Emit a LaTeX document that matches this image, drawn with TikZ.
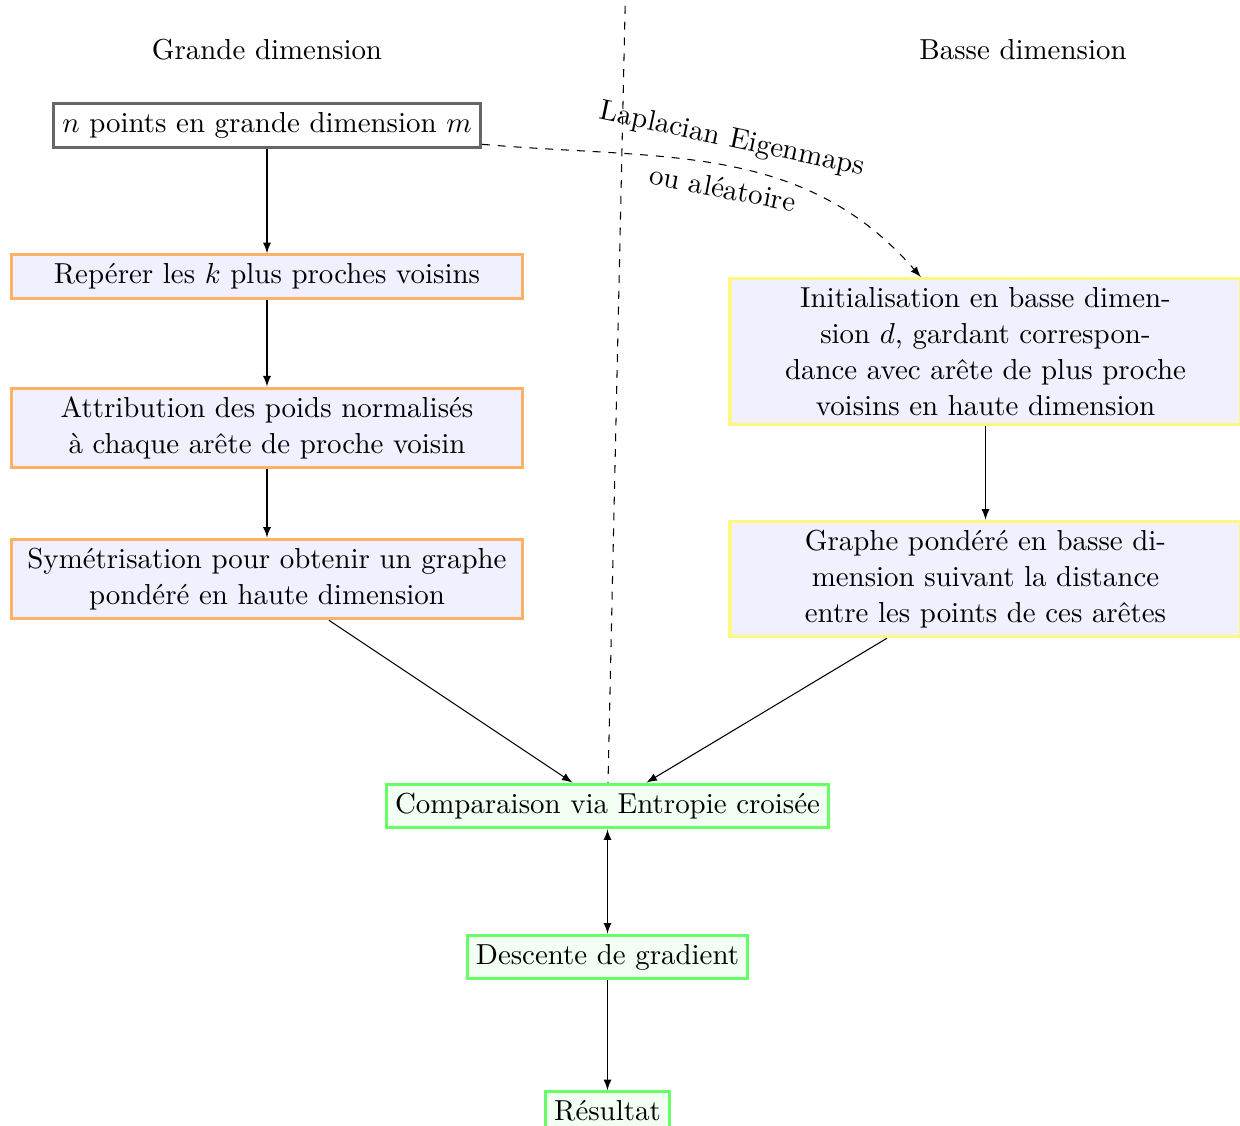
\documentclass[tikz,border=0pt]{standalone}
\usetikzlibrary{arrows}
\begin{document}
\begin{tikzpicture}[x=0.3788pt,y=0.3788pt,
  font=\fontsize{10.95}{13.6}\selectfont,
  >=latex,
  base/.style={draw,line width=1.2pt,align=center,inner sep=3.33pt},
  startbox/.style={base,draw=black!60,fill=white},
  hibox/.style={base,draw=orange!60,fill=blue!6,minimum width=193.6pt},
  lobox/.style={base,draw=yellow!50,fill=blue!6,minimum width=193.6pt},
  resbox/.style={base,draw=green!60,fill=green!5},
  arr/.style={->,line width=0.4pt},
  lbl/.style={inner sep=0pt}
]
\useasboundingbox (0,0) rectangle (1240,-1126);
\node[lbl] (hg) at (267,-50) {Grande dimension};
\node[lbl] (hb) at (1023,-50) {Basse dimension};
\node[startbox] (pts) at (267,-125.5) {$n$ points en grande dimension $m$};
\node[hibox] (knn) at (267,-276.5) {Repérer les $k$ plus proches voisins};
\node[hibox] (att) at (267,-428) {Attribution des poids normalisés\\à chaque arête de proche voisin};
\node[hibox] (sym) at (267,-579) {Symétrisation pour obtenir un graphe\\pondéré en haute dimension};
\node[lobox] (ini) at (985.5,-351.5) {Initialisation en basse dimen-\\sion $d$, gardant correspon-\\dance avec arête de plus proche\\voisins en haute dimension};
\node[lobox] (gra) at (985.5,-579) {Graphe pondéré en basse di-\\mension suivant la distance\\entre les points de ces arêtes};
\node[resbox] (cmp) at (607.5,-806) {Comparaison via Entropie croisée};
\node[resbox] (des) at (607.5,-957) {Descente de gradient};
\node[resbox] (res) at (607.5,-1111) {Résultat};
\coordinate (top) at (625.5,10);
\draw[dashed,line width=0.4pt] (top) -- (cmp);
\draw[arr] (pts) -- (knn);
\draw[arr] (knn) -- (att);
\draw[arr] (att) -- (sym);
\draw[arr] (sym) -- (cmp);
\draw[arr] (ini) -- (gra);
\draw[arr] (gra) -- (cmp);
\draw[<->,line width=0.4pt] (cmp) -- (des);
\draw[arr] (des) -- (res);
\draw[arr,dashed] (pts) to[out=-5,in=131] (ini);
\node[lbl,rotate=-12] (lap) at (732,-140) {Laplacian Eigenmaps};
\node[lbl,rotate=-11] (alea) at (723,-188) {ou aléatoire};
\end{tikzpicture}
\end{document}
